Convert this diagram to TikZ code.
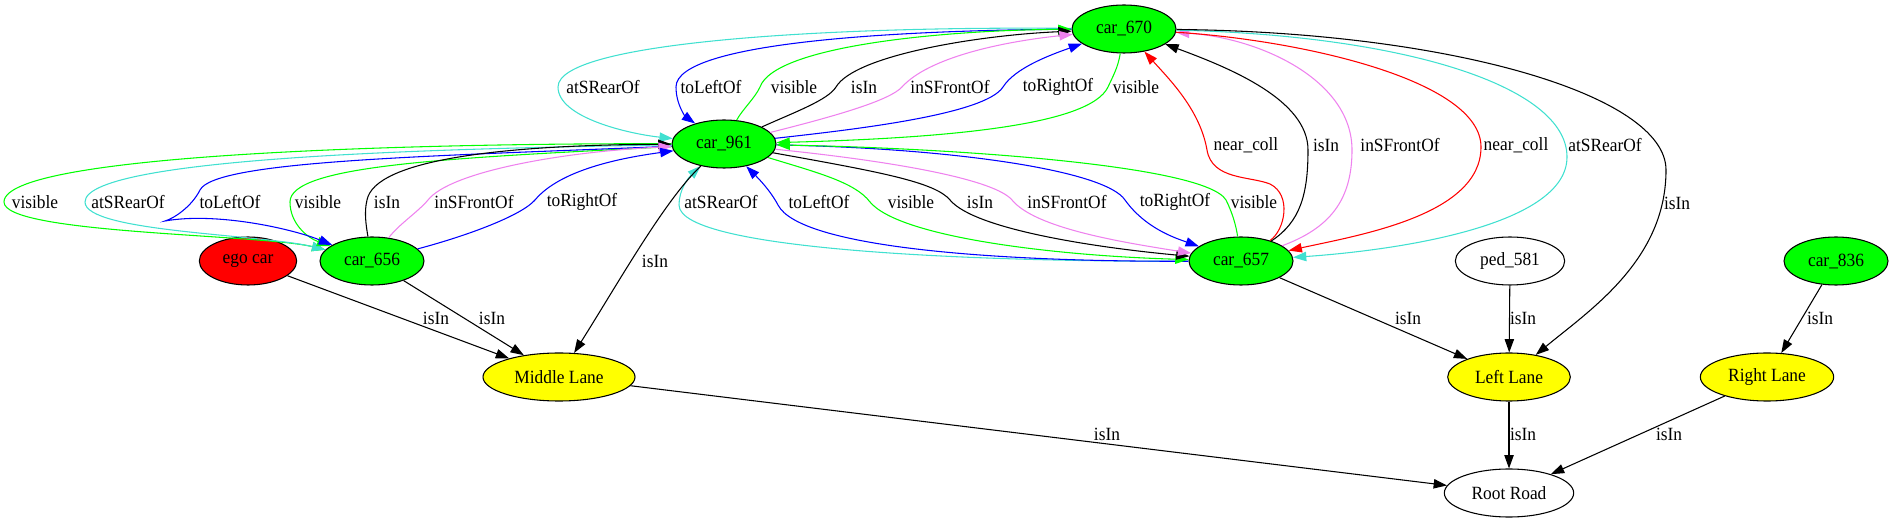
\documentclass[tikz,border=0pt]{standalone}
\usepackage{fontspec}
\setmainfont{Liberation Serif}
\newfontfamily\gvfont[FakeStretch=0.93]{Liberation Serif}
\usetikzlibrary{shapes.geometric,arrows.meta}
\definecolor{gvgreen}{HTML}{00FF00}
\definecolor{gvturq}{HTML}{40E0D0}
\definecolor{gvviolet}{HTML}{EE82EE}
\definecolor{gvblue}{HTML}{0000FF}
\definecolor{gvred}{HTML}{FF0000}
\definecolor{gvyellow}{HTML}{FFFF00}
\begin{document}
\begin{tikzpicture}[x=0.75pt,y=-0.75pt,
  gv/.style={ellipse,draw=black,line width=0.8pt,inner sep=0pt,minimum height=36pt,font=\gvfont\fontsize{14}{16}\selectfont},
  carnode/.style={gv,fill=gvgreen,minimum width=78pt},
  lanenode/.style={gv,fill=gvyellow},
  lbl/.style={inner sep=0pt,font=\gvfont\fontsize{14}{16}\selectfont},
  ed/.style={line width=0.8pt,-{Triangle[length=10pt,width=7pt]}},
  eg/.style={ed,draw=gvgreen,color=gvgreen},
  et/.style={ed,draw=gvturq,color=gvturq},
  ev/.style={ed,draw=gvviolet,color=gvviolet},
  eb/.style={ed,draw=gvblue,color=gvblue},
  er/.style={ed,draw=gvred,color=gvred},
  ek/.style={ed,draw=black,color=black},
]
\useasboundingbox (0,0) rectangle (1894,523);

% nodes
\node[carnode] (c670) at (1124,29) {car\_670};
\node[carnode] (c961) at (724,144) {car\_961};
\node[gv,fill=gvred,minimum width=73pt] (ego) at (248,261) {ego car};
\node[carnode] (c656) at (372,261) {car\_656};
\node[carnode] (c657) at (1241,261) {car\_657};
\node[gv,fill=white,minimum width=82pt] (ped) at (1510,261) {ped\_581};
\node[carnode] (c836) at (1836,261) {car\_836};
\node[lanenode,minimum width=114pt] (mid) at (559,377) {Middle Lane};
\node[lanenode,minimum width=92pt] (left) at (1509,377) {Left Lane};
\node[lanenode,minimum width=100pt] (right) at (1767,377) {Right Lane};
\node[gv,fill=white,minimum width=97pt] (root) at (1509,493) {Root Road};

% labels: car_670 <-> car_961
\node[lbl] (t1) at (603,87) {atSRearOf};
\node[lbl] (t2) at (711,87) {toLeftOf};
\node[lbl] (t3) at (794,87) {visible};
\node[lbl] (t4) at (864,87) {isIn};
\node[lbl] (t5) at (950,87) {inSFrontOf};
\node[lbl] (t6) at (1058,87) {toRightOf};
\node[lbl] (t7) at (1136,87) {visible};
% labels: car_961 <-> car_656
\node[lbl] (l1) at (35,202) {visible};
\node[lbl] (l2) at (128,202) {atSRearOf};
\node[lbl] (l3) at (230,202) {toLeftOf};
\node[lbl] (l4) at (318,202) {visible};
\node[lbl] (l5) at (387,202) {isIn};
\node[lbl] (l6) at (474,202) {inSFrontOf};
\node[lbl] (l7) at (582,202) {toRightOf};
% labels: car_961 <-> car_657
\node[lbl] (r1) at (721,202) {atSRearOf};
\node[lbl] (r2) at (819,202) {toLeftOf};
\node[lbl] (r3) at (911,202) {visible};
\node[lbl] (r4) at (980,202) {isIn};
\node[lbl] (r5) at (1067,202) {inSFrontOf};
\node[lbl] (r6) at (1175,202) {toRightOf};
\node[lbl] (r7) at (1254,202) {visible};
% labels: car_670 <-> car_657
\node[lbl] (m1) at (1246,145) {near\_coll};
\node[lbl] (m2) at (1326,145) {isIn};
\node[lbl] (m3) at (1400,145) {inSFrontOf};
\node[lbl] (m4) at (1516,145) {near\_coll};
\node[lbl] (m5) at (1605,145) {atSRearOf};
\node[lbl] (m6) at (1677,203) {isIn};
% labels: lower edges
\node[lbl] (b1) at (655,261) {isIn};
\node[lbl] (b2) at (436,318) {isIn};
\node[lbl] (b3) at (492,318) {isIn};
\node[lbl] (b4) at (1408,318) {isIn};
\node[lbl] (b5) at (1523,318) {isIn};
\node[lbl] (b6) at (1820,318) {isIn};
\node[lbl] (b7) at (1107,434) {isIn};
\node[lbl] (b8) at (1523,434) {isIn};
\node[lbl] (b9) at (1669,434) {isIn};

% car_670 <-> car_961
\draw[et] (c670) .. controls (850,26) and (558,40) .. (558,87) .. controls (558,118) and (630,134) .. (c961);
\draw[eb] (c670) .. controls (900,30) and (676,42) .. (676,87) .. controls (676,105) and (686,117) .. (c961);
\draw[eg] (c961) .. controls (742,110) and (755,98) .. (760,87) .. controls (775,45) and (950,30) .. (c670);
\draw[ek] (c961) .. controls (795,112) and (828,100) .. (836,87) .. controls (855,55) and (980,35) .. (c670);
\draw[ev] (c961) .. controls (840,115) and (890,100) .. (902,87) .. controls (928,58) and (1000,42) .. (c670);
\draw[eb] (c961) .. controls (850,130) and (985,115) .. (1003,87) .. controls (1015,68) and (1050,55) .. (c670);
\draw[eg] (c670) .. controls (1118,68) and (1112,78) .. (1108,87) .. controls (1090,125) and (950,138) .. (c961);

% car_961 <-> car_656
\draw[eg] (c961) .. controls (480,143) and (4,150) .. (4,202) .. controls (4,234) and (260,234) .. (c656);
\draw[et] (c961) .. controls (480,148) and (85,155) .. (85,202) .. controls (85,232) and (260,234) .. (c656);
\draw[eg] (c961) .. controls (450,158) and (290,165) .. (290,202) .. controls (290,224) and (308,238) .. (c656);
\draw[eb] (c961) .. controls (440,156) and (215,160) .. (200,190) .. controls (192,206) and (175,218) .. (165,221) .. controls (215,212) and (290,228) .. (c656);
\draw[ek] (c656) .. controls (366,225) and (364,212) .. (367,200) .. controls (375,160) and (500,145) .. (c961);
\draw[ev] (c656) .. controls (398,225) and (418,212) .. (428,200) .. controls (450,172) and (560,152) .. (c961);
\draw[eb] (c656) .. controls (470,235) and (522,215) .. (535,200) .. controls (560,170) and (620,158) .. (c961);

% car_961 <-> car_657
\draw[et] (c657) .. controls (1000,262) and (679,252) .. (679,205) .. controls (679,190) and (688,178) .. (c961);
\draw[eb] (c657) .. controls (1000,262) and (800,248) .. (778,205) .. controls (770,190) and (758,178) .. (c961);
\draw[eg] (c961) .. controls (815,172) and (855,182) .. (870,202) .. controls (900,238) and (1060,256) .. (c657);
\draw[ek] (c961) .. controls (880,172) and (935,182) .. (950,200) .. controls (975,230) and (1100,248) .. (c657);
\draw[ev] (c961) .. controls (900,162) and (995,180) .. (1012,200) .. controls (1035,228) and (1120,242) .. (c657);
\draw[eb] (c961) .. controls (950,148) and (1105,170) .. (1125,200) .. controls (1145,228) and (1175,238) .. (c657);
\draw[eg] (c657) .. controls (1236,225) and (1232,212) .. (1226,200) .. controls (1205,165) and (950,148) .. (c961);

% car_670 <-> car_657
\draw[er] (c657) .. controls (1285,230) and (1292,195) .. (1270,184) .. controls (1250,176) and (1212,180) .. (1207,150) .. controls (1200,110) and (1170,80) .. (c670);
\draw[ek] (c657) .. controls (1300,222) and (1308,195) .. (1308,150) .. controls (1308,100) and (1230,68) .. (c670);
\draw[ev] (c657) .. controls (1330,228) and (1352,200) .. (1352,150) .. controls (1352,80) and (1260,38) .. (c670);
\draw[er] (c670) .. controls (1300,40) and (1481,80) .. (1481,147) .. controls (1481,215) and (1360,235) .. (c657);
\draw[et] (c670) .. controls (1400,35) and (1567,85) .. (1567,157) .. controls (1567,225) and (1400,250) .. (c657);
\draw[ek] (c670) .. controls (1450,32) and (1666,95) .. (1666,170) .. controls (1666,260) and (1590,310) .. (left);

% lower edges
\draw[ek] (c961) .. controls (665,200) and (620,280) .. (mid);
\draw[ek] (ego) -- (mid);
\draw[ek] (c656) -- (mid);
\draw[ek] (c657) -- (left);
\draw[ek] (ped) -- (left);
\draw[ek] (c836) -- (right);
\draw[ek] (mid) -- (root);
\draw[ek] (left) -- (root);
\draw[ek] (right) -- (root);
\end{tikzpicture}
\end{document}
